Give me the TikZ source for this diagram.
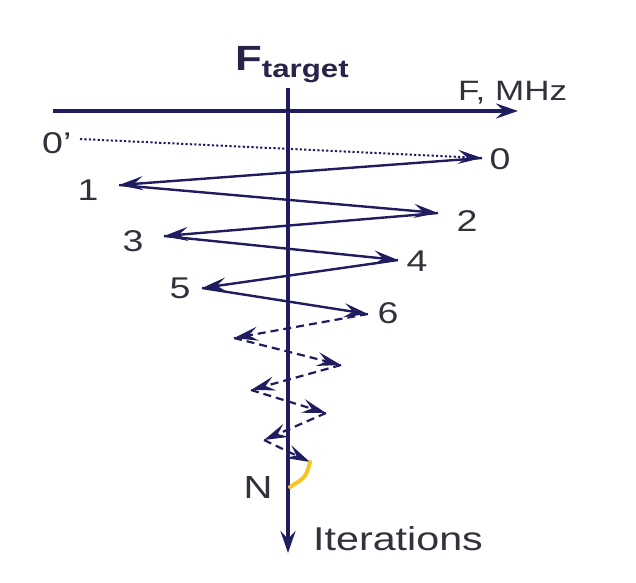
\documentclass[tikz,border=0pt]{standalone}
\usepackage{fontspec}
\setmainfont{Liberation Sans}
\usetikzlibrary{arrows.meta, positioning}
\definecolor{axisnavy}{RGB}{32,28,96}
\definecolor{titlenavy}{RGB}{40,36,72}
\definecolor{labelgray}{RGB}{50,50,60}
\definecolor{flashyellow}{RGB}{245,196,40}
\newcommand{\wide}[1]{\scalebox{1.25}[1]{#1}}

\begin{document}
\begin{tikzpicture}[x=1pt, y=-1pt, font=\fontsize{30}{30}\selectfont,
  axis/.style={draw=axisnavy, line width=4pt, -{Stealth[length=22pt, width=15pt, inset=8pt]}},
  jump/.style={draw=axisnavy, line width=2.4pt, -{Stealth[length=24pt, width=14pt, inset=9pt]}},
  guess/.style={jump, line width=2.2pt, dash pattern=on 8pt off 5pt},
  offset/.style={jump, line width=2pt, dash pattern=on 2.2pt off 2.2pt},
  lbl/.style={text=labelgray, inner sep=0pt}]
\useasboundingbox (0,0) rectangle (636,582);

% axes
\coordinate (fstart) at (53,111);
\coordinate (fend) at (518,111);
\coordinate (itop) at (288,88);
\coordinate (iend) at (288,553);
\draw[axis] (fstart) -- (fend);
\draw[axis] (itop) -- (iend);

\node[anchor=base west, inner sep=0pt, text=titlenavy] (ftarget) at (235,70)
  {\wide{\bfseries\fontsize{35}{35}\selectfont F\raisebox{-7pt}{\fontsize{25}{25}\selectfont target}}};
\node[lbl, anchor=base west, font=\fontsize{28}{28}\selectfont] (faxis) at (458,100) {\wide{F, MHz}};
\node[lbl, anchor=base west, font=\fontsize{33}{33}\selectfont] (iaxis) at (313,550) {\wide{Iterations}};

% iteration points
\coordinate (p00) at (80,139);
\coordinate (p0) at (482,158);
\coordinate (p1) at (119,185);
\coordinate (p2) at (438,213);
\coordinate (p3) at (164,236);
\coordinate (p4) at (398,260);
\coordinate (p5) at (202,288);
\coordinate (p6) at (368,314);
\coordinate (d1) at (234,338);
\coordinate (d2) at (341,365);
\coordinate (d3) at (251,390);
\coordinate (d4) at (326,413);
\coordinate (d5) at (264,440);
\coordinate (d6) at (310,462);
\coordinate (pn) at (290,487);

\draw[offset] (p00) -- (p0);
\foreach \a/\b in {p0/p1, p1/p2, p2/p3, p3/p4, p4/p5, p5/p6}
  \draw[jump] (\a) -- (\b);
\foreach \a/\b in {p6/d1, d1/d2, d2/d3, d3/d4, d4/d5, d5/d6}
  \draw[guess] (\a) -- (\b);
\draw[flashyellow, line width=4pt, line cap=round] (d6) .. controls (306,477) .. (pn);

% labels
\node[lbl, anchor=west] (l00) at (42,143) {\wide{0’}};
\node[lbl] (l0) at (500,159) {\wide{0}};
\node[lbl] (l1) at (88,190) {\wide{1}};
\node[lbl] (l2) at (467,221) {\wide{2}};
\node[lbl] (l3) at (133,241) {\wide{3}};
\node[lbl] (l4) at (417,261) {\wide{4}};
\node[lbl] (l5) at (180,288) {\wide{5}};
\node[lbl] (l6) at (388,313) {\wide{6}};
\node[lbl, font=\fontsize{32}{32}\selectfont] (ln) at (258,487) {\wide{N}};
\end{tikzpicture}
\end{document}
